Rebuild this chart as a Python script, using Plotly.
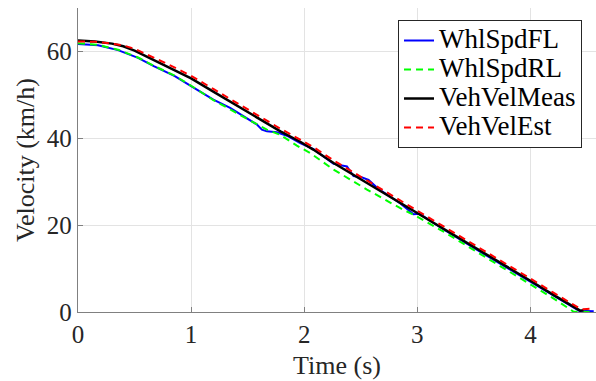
import plotly.graph_objects as go

# ---- data ----
t_meas = [0, 0.15, 0.3, 0.4, 0.5, 0.64, 0.8, 0.9, 1.0, 1.2, 1.49, 1.79, 1.965, 2.08,
          2.26, 2.555, 2.85, 3.115, 3.233, 3.42, 3.617, 3.8, 4.0, 4.2, 4.41, 4.44, 4.47]
veh_vel_meas = [62.5, 62.3, 61.8, 61.2, 60.2, 58.4, 56.4, 55.1, 53.8, 50.7, 46.2, 41.6, 39.2, 37.4,
                34.3, 29.7, 25.2, 21.1, 19.3, 16.3, 13.2, 10.3, 7.2, 4.0, 0.6, 0.3, 0.4]

t_est = [0, 0.15, 0.3, 0.4, 0.5, 0.64, 0.8, 0.9, 1.0, 1.2, 1.49, 1.79, 1.965, 2.08,
         2.26, 2.555, 2.85, 3.115, 3.233, 3.42, 3.617, 3.8, 4.0, 4.2, 4.41, 4.45, 4.5, 4.56]
veh_vel_est = [62.3, 62.2, 61.8, 61.4, 60.6, 59.0, 57.0, 55.7, 54.4, 51.3, 46.8, 42.2, 39.7, 38.0,
               34.9, 30.3, 25.8, 21.6, 19.8, 16.8, 13.7, 10.8, 7.7, 4.5, 1.2, 0.6, 0.7, 0.8]

t_fl = [0, 0.177, 0.354, 0.531, 0.67, 0.856, 1.0, 1.197, 1.345, 1.493, 1.58, 1.626, 1.67,
        1.758, 1.847, 1.965, 2.082, 2.26, 2.378, 2.436, 2.5, 2.569, 2.65, 2.85, 2.938, 2.967,
        3.02, 3.233, 3.617, 4.0, 4.2, 4.35, 4.43, 4.56]
whl_spd_fl = [61.7, 61.4, 60.3, 58.5, 56.6, 54.3, 52.0, 48.9, 47.0, 44.7, 43.2, 42.0, 41.6,
              41.4, 40.6, 38.9, 37.5, 34.1, 33.5, 31.3, 31.1, 30.4, 28.5, 25.0, 23.2, 22.5,
              22.6, 19.0, 12.9, 6.9, 3.8, 1.5, 0.3, 0.2]

t_rl = [0, 0.177, 0.354, 0.531, 0.67, 0.856, 1.0, 1.197, 1.493, 1.67, 1.788, 1.935, 2.053,
        2.112, 2.259, 2.555, 2.85, 2.967, 3.233, 3.617, 4.0, 4.2, 4.38, 4.56]
whl_spd_rl = [61.9, 61.5, 60.4, 58.6, 56.7, 54.4, 52.1, 48.8, 44.5, 42.0, 40.8, 38.3, 36.6,
              35.5, 32.8, 28.2, 23.9, 22.4, 18.5, 12.4, 6.4, 3.2, 0.1, 0.0]

series_names = ["WhlSpdFL", "WhlSpdRL", "VehVelMeas", "VehVelEst"]
x_ticks = [0, 1, 2, 3, 4]
y_ticks = [0, 20, 40, 60]

FONT = "Liberation Serif, Times New Roman, serif"
TXT = "#262626"
AX = "#808080"
GRID = "#e3e3e3"


def legend_label(s):
    return '<span style="font-size:27px">' + s + '</span>'


fig = go.Figure()
fig.add_trace(go.Scatter(x=t_fl, y=whl_spd_fl, mode="lines", name=legend_label(series_names[0]),
                         line=dict(color="#0000ff", width=2)))
fig.add_trace(go.Scatter(x=t_rl, y=whl_spd_rl, mode="lines", name=legend_label(series_names[1]),
                         line=dict(color="#00ff00", width=2, dash="7px,5px")))
fig.add_trace(go.Scatter(x=t_meas, y=veh_vel_meas, mode="lines", name=legend_label(series_names[2]),
                         line=dict(color="#000000", width=2.5)))
fig.add_trace(go.Scatter(x=t_est, y=veh_vel_est, mode="lines", name=legend_label(series_names[3]),
                         line=dict(color="#ff0000", width=2, dash="7px,5px")))

fig.update_layout(
    width=596, height=381,
    margin=dict(l=78, r=0, t=8, b=69),
    paper_bgcolor="white", plot_bgcolor="white",
    font=dict(family=FONT, size=26, color=TXT),
    showlegend=True,
    legend=dict(x=0.973, y=0.9605, xanchor="right", yanchor="top",
                bgcolor="white", bordercolor="#262626", borderwidth=1,
                font=dict(family=FONT, size=20, color="#000000"),
                tracegroupgap=0),
)
fig.update_xaxes(
    range=[0, 4.58], tickvals=x_ticks, ticktext=[str(v) for v in x_ticks],
    showgrid=True, gridcolor=GRID, gridwidth=1, zeroline=False,
    showline=True, linecolor=AX, linewidth=1.3,
    ticks="inside", ticklen=5, tickcolor=AX,
    tickfont=dict(family=FONT, size=25, color=TXT),
    title=dict(text="Time (s)", font=dict(family=FONT, size=26, color=TXT), standoff=8),
    automargin=False,
)
fig.update_yaxes(
    range=[0, 70], tickvals=y_ticks, ticktext=[str(v) for v in y_ticks],
    showgrid=True, gridcolor=GRID, gridwidth=1, zeroline=False,
    showline=True, linecolor=AX, linewidth=1.3,
    ticks="inside", ticklen=5, tickcolor=AX,
    tickfont=dict(family=FONT, size=25, color=TXT),
    title=dict(text="Velocity (km/h)", font=dict(family=FONT, size=26, color=TXT), standoff=4),
    automargin=False,
)

fig.write_html("out.html")
